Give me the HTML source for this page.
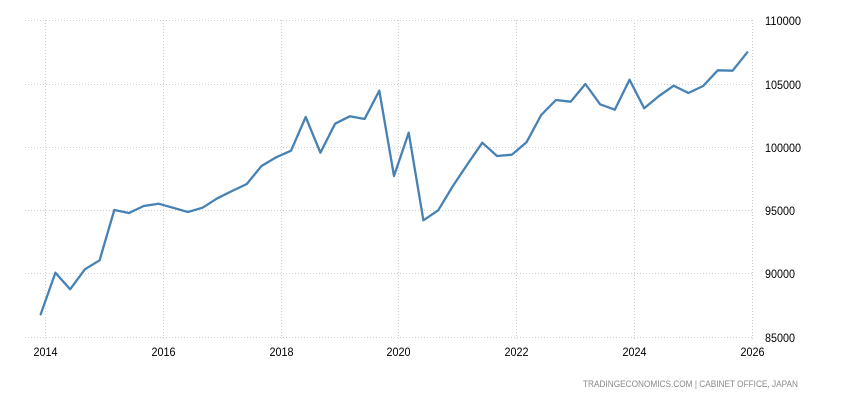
<!DOCTYPE html>
<html><head><meta charset="utf-8"><style>
html,body{margin:0;padding:0;background:#fff;width:850px;height:400px;overflow:hidden}
svg{display:block}
text{font-family:"Liberation Sans",Arial,sans-serif}
</style></head><body>
<svg width="850" height="400" viewBox="0 0 850 400" xmlns="http://www.w3.org/2000/svg">
<g stroke="#cfcfcf" stroke-width="1" stroke-dasharray="1,2" fill="none">
<line x1="25" y1="20.5" x2="753" y2="20.5"/>
<line x1="25" y1="84.5" x2="753" y2="84.5"/>
<line x1="25" y1="147.5" x2="753" y2="147.5"/>
<line x1="25" y1="210.5" x2="753" y2="210.5"/>
<line x1="25" y1="273.5" x2="753" y2="273.5"/>
<line x1="25" y1="337.5" x2="753" y2="337.5"/>
<line x1="45.5" y1="20" x2="45.5" y2="341"/>
<line x1="163.5" y1="20" x2="163.5" y2="341"/>
<line x1="281.5" y1="20" x2="281.5" y2="341"/>
<line x1="398.5" y1="20" x2="398.5" y2="341"/>
<line x1="516.5" y1="20" x2="516.5" y2="341"/>
<line x1="634.5" y1="20" x2="634.5" y2="341"/>
<line x1="752.5" y1="20" x2="752.5" y2="341"/>
</g>
<polyline fill="none" stroke="#4682b4" stroke-width="2.3" stroke-linejoin="round" stroke-linecap="round" points="
40.7,314.3 55.4,272.7 70.1,289.3 84.9,269.3 99.6,260.3 114.3,210 129.0,213 143.7,206 158.5,203.7 173.2,207.8 187.9,212 202.6,207.7 217.3,198.3 232.1,191 246.8,184 261.5,166 276.2,157.3 291.0,150.7 305.7,117 320.4,152.7 335.1,123.7 349.8,116.3 364.6,119 379.3,90.7 394.0,176 408.7,132.7 423.4,220.3 438.2,210.3 452.9,186 467.6,164 482.3,142.7 497.0,156 511.8,154.7 526.5,142.3 541.2,115 555.9,100 570.6,101.7 585.4,84 600.1,104.3 614.8,109.7 629.5,79.7 644.2,108.3 659.0,96 673.7,85.7 688.4,93 703.1,86 717.8,70.3 732.6,70.7 747.3,52.3"/>
<g fill="#000" font-size="11.5">
<text x="765" y="25" textLength="36" lengthAdjust="spacingAndGlyphs">110000</text>
<text x="765" y="89" textLength="36" lengthAdjust="spacingAndGlyphs">105000</text>
<text x="765" y="152" textLength="36" lengthAdjust="spacingAndGlyphs">100000</text>
<text x="765" y="215" textLength="30" lengthAdjust="spacingAndGlyphs">95000</text>
<text x="765" y="278" textLength="30" lengthAdjust="spacingAndGlyphs">90000</text>
<text x="765" y="342" textLength="30" lengthAdjust="spacingAndGlyphs">85000</text>
</g>
<g fill="#000" font-size="11.5">
<text x="33.5" y="356" textLength="24" lengthAdjust="spacingAndGlyphs">2014</text>
<text x="151.5" y="356" textLength="24" lengthAdjust="spacingAndGlyphs">2016</text>
<text x="269.5" y="356" textLength="24" lengthAdjust="spacingAndGlyphs">2018</text>
<text x="386.5" y="356" textLength="24" lengthAdjust="spacingAndGlyphs">2020</text>
<text x="504.5" y="356" textLength="24" lengthAdjust="spacingAndGlyphs">2022</text>
<text x="622.5" y="356" textLength="24" lengthAdjust="spacingAndGlyphs">2024</text>
<text x="740.5" y="356" textLength="24" lengthAdjust="spacingAndGlyphs">2026</text>
</g>
<text x="583" y="387" fill="#8a8a8a" font-size="9" textLength="215" lengthAdjust="spacingAndGlyphs">TRADINGECONOMICS.COM  |  CABINET  OFFICE,  JAPAN</text>
</svg>
</body></html>
